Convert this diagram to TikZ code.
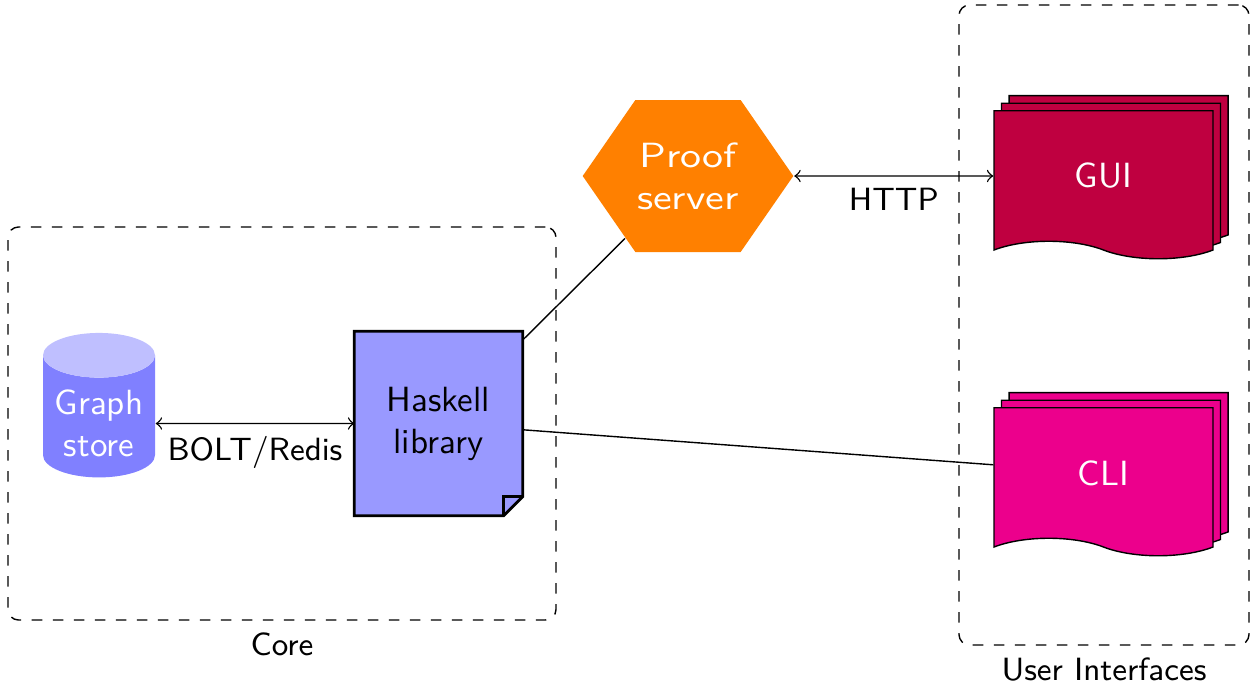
\documentclass[tikz,border=0pt]{standalone}
\usetikzlibrary{shapes.geometric,shapes.symbols,shadows,backgrounds}
\def\pxu{0.2857pt}
\definecolor{clipink}{RGB}{236,0,140}
\tikzset{
  x=0.2857pt, y=-0.2857pt,
  every node/.style={font=\sffamily, align=center},
  smalltext/.style={font=\sffamily\fontsize{9.2}{11}\selectfont},
  every label/.style={smalltext},
  group/.style={draw, dashed, rounded corners=3pt},
  multidoc/.style={shape=tape, tape bend top=none, tape bend bottom=out and in,
    draw, fill=#1, text=white,
    minimum width=219*\pxu, minimum height=148*\pxu,
    general shadow={shadow xshift=1ex, shadow yshift=1ex, fill=#1, draw=black},
    general shadow={shadow xshift=.5ex, shadow yshift=.5ex, fill=#1, draw=black}},
}
\begin{document}
\begin{tikzpicture}
\useasboundingbox (0,0) rectangle (1256,685);

% containers
\node[group, minimum width=548*\pxu, minimum height=393*\pxu, label=below:Core] (core) at (282,423.5) {};
\node[group, minimum width=290*\pxu, minimum height=640*\pxu, label=below:User Interfaces] (ui) at (1104,325) {};

% storage
\node[cylinder, shape border rotate=90, aspect=0.4, cylinder uses custom fill,
      cylinder body fill=blue!50, cylinder end fill=blue!25, text=white,
      minimum width=112*\pxu, minimum height=144*\pxu] (store) at (99,423.5) {Graph\\store};

% library (outline with folded corner drawn underneath)
\node[minimum width=167*\pxu, minimum height=183*\pxu] (hask) at (438.5,423.5) {Haskell\\library};
\begin{scope}[on background layer]
  \draw[thick, fill=blue!40] (hask.north west) -- (hask.north east)
    -- ([yshift=19*\pxu]hask.south east) -- ([xshift=-19*\pxu]hask.south east)
    -- (hask.south west) -- cycle;
  \draw[thick] ([yshift=19*\pxu]hask.south east) -- ([xshift=-19*\pxu,yshift=19*\pxu]hask.south east)
    -- ([xshift=-19*\pxu]hask.south east);
\end{scope}

% server: hexagon stretched horizontally together with its text
\node[regular polygon, regular polygon sides=6, xscale=1.2, transform shape,
      fill=orange, text=white, minimum size=175.5*\pxu, inner sep=0pt] (proof) at (688,176) {Proof\\server};

% front ends
\node[multidoc=purple] (gui) at (1103.5,176) {GUI};
\node[multidoc=clipink] (cli) at (1103.5,473) {CLI};

% connections
\draw[<->] (store) -- node[below, smalltext] {BOLT/Redis} (hask);
\draw (hask) -- (proof);
\draw (hask) -- (cli);
\draw[<->] (proof) -- node[below, smalltext] {HTTP} (gui);
\end{tikzpicture}
\end{document}
